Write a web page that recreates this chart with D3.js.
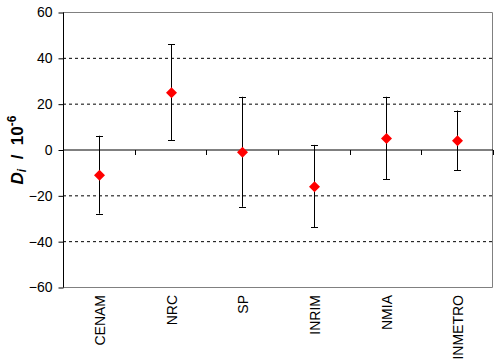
<!DOCTYPE html>
<html><head><meta charset="utf-8">
<script src="https://cdn.jsdelivr.net/npm/d3@7"></script>
<style>body{margin:0;background:#fff}svg{display:block}text{font-family:Arial,"Liberation Sans",sans-serif}</style>
</head><body><svg id="c" width="495" height="364"></svg>
<script>
const categories = ["CENAM","NRC","SP","INRIM","NMIA","INMETRO"];
const values = [-11, 25, -1, -16, 5, 4];
const upper = [6, 46, 23, 2, 23, 17];
const lower = [-28, 4, -25, -34, -13, -9];
const yTicks = [-60,-40,-20,0,20,40,60];
const gridTicks = [-40,-20,20,40];

const svg = d3.select("#c");
const L=63, R=493, T=12, B=287;
const x = d3.scaleBand().domain(categories).range([L,R]);
const y = d3.scaleLinear().domain([-60,60]).range([B,T]);

svg.append("g").selectAll("line").data(gridTicks).join("line")
  .attr("x1",L).attr("x2",R).attr("y1",d=>y(d)+0.5).attr("y2",d=>y(d)+0.5)
  .attr("stroke","#000").attr("stroke-dasharray","3,3");

svg.append("path").attr("d",`M${L},${T+0.5}H${R-0.5}V${B+0.5}H${L}`)
  .attr("fill","none").attr("stroke","#808080");

const ya = svg.append("g").attr("transform",`translate(${L+0.5},0.5)`)
  .call(d3.axisLeft(y).tickValues(yTicks).tickSize(5).tickPadding(6).tickFormat(d3.format("d")));
ya.select(".domain").attr("d",`M0,${T}V${B}`).attr("stroke","#000");
ya.selectAll("text").attr("font-size","14px").attr("font-family","Arial, 'Liberation Sans', sans-serif").attr("fill","#000");
ya.selectAll(".tick line").attr("stroke","#000");

const xa = svg.append("g").attr("transform",`translate(0,${y(0)+0.5})`);
xa.append("line").attr("x1",L).attr("x2",R).attr("stroke","#000");
const bounds = categories.map(c=>x(c)+x.bandwidth());
xa.selectAll(".bt").data(bounds).join("line").attr("class","bt")
  .attr("x1",d=>Math.round(d)+0.5).attr("x2",d=>Math.round(d)+0.5).attr("y1",0).attr("y2",5).attr("stroke","#000");

svg.append("g").selectAll("text").data(categories).join("text")
  .attr("transform",d=>`translate(${x(d)+x.bandwidth()/2+6},295) rotate(-90)`)
  .attr("text-anchor","end").attr("font-size","14px").text(d=>d);

const cx = i => Math.round(x(categories[i])+x.bandwidth()/2)+0.5;
const eb = svg.append("g").attr("stroke","#000").attr("fill","none");
values.forEach((v,i)=>{
  const X=cx(i);
  eb.append("line").attr("x1",X).attr("x2",X).attr("y1",y(upper[i])).attr("y2",y(lower[i]));
  eb.append("line").attr("x1",X-3.5).attr("x2",X+3.5).attr("y1",Math.round(y(upper[i]))+0.5).attr("y2",Math.round(y(upper[i]))+0.5);
  eb.append("line").attr("x1",X-3.5).attr("x2",X+3.5).attr("y1",Math.round(y(lower[i]))+0.5).attr("y2",Math.round(y(lower[i]))+0.5);
});

svg.append("g").selectAll("path").data(values).join("path")
  .attr("d",(v,i)=>{const X=cx(i),Y=y(v)+0.5;return `M${X},${Y-5.5}L${X+5.5},${Y}L${X},${Y+5.5}L${X-5.5},${Y}Z`;})
  .attr("fill","#ff0000");

const yt = svg.append("text").attr("transform",`translate(23,150) rotate(-90)`)
  .attr("text-anchor","middle").attr("font-size","17px").attr("font-weight","bold");
yt.append("tspan").attr("font-style","italic").text("D");
yt.append("tspan").attr("font-style","italic").attr("font-size","12px").attr("dy","3").text("i");
yt.append("tspan").attr("dy","-3").attr("xml:space","preserve").text("  /  10");
yt.append("tspan").attr("font-size","12px").attr("dy","-7").text("-6");
</script></body></html>
